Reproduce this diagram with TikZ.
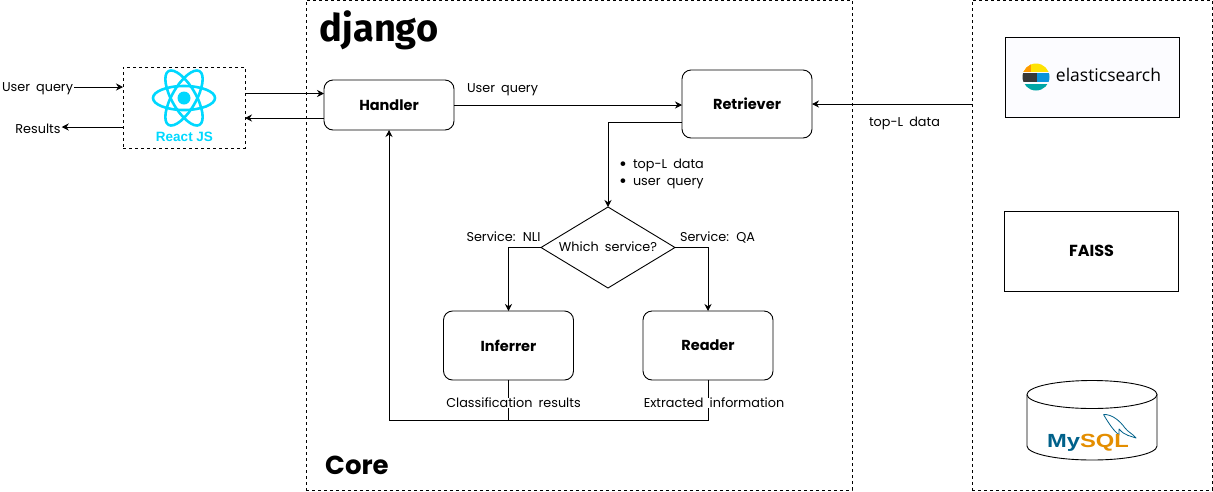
\documentclass[tikz,border=0pt]{standalone}
\usepackage{fontspec}
\setmainfont[WordSpace=1.8]{Poppins}
\newfontfamily\logofont{Liberation Sans}
\newfontfamily\elasticfont{Open Sans}
\newfontfamily\djangofont{Fira Sans}
\usetikzlibrary{arrows.meta,shapes.geometric}
\definecolor{reactcolor}{HTML}{00D8FF}
\definecolor{mysqlblue}{HTML}{00618A}
\definecolor{mysqlorange}{HTML}{E48E00}
\newcommand{\reactlogo}
{   \foreach \a in {0,60,120}
      \draw[reactcolor,line width=2.6pt,rotate around={\a:(184,98)}] (184,98) ellipse (31 and 12);
    \fill[reactcolor] (184,98) circle (6.5);
}
\newcommand{\elasticlogo}
{   \begin{scope}
      \clip (1036,77) circle (13.5);
      \fill[yellow!85!orange] (1022,62) rectangle (1052,71.5);
      \fill[orange!80!yellow] (1022,62) rectangle (1031,71.5);
      \fill[black!78] (1022,73) rectangle (1037,82);
      \fill[cyan!80!blue] (1037,73) rectangle (1052,82);
      \fill[teal!70!cyan] (1022,83.5) rectangle (1052,92);
    \end{scope}
}
\newcommand{\mysqldrum}
{   \draw[line width=0.9pt] (1027,394.5) -- (1027,446) arc (180:0:65 and 14) -- (1157,394.5);
    \draw[line width=0.9pt] (1092,394.5) ellipse (65 and 14);
}
\newcommand{\dolphin}
{   \draw[mysqlblue,line width=0.8pt,line join=round] (1103.5,414.5) .. controls (1112,414) and (1120,421) .. (1125,428)
      .. controls (1128,432) and (1133,434) .. (1136,438) .. controls (1131,436) and (1125,436) .. (1119,429)
      -- (1119,435) .. controls (1114,431) and (1109,424) .. (1103.5,414.5);
}
\newcommand{\bigdot}{\raisebox{-1.5pt}{\fontsize{19}{18}\selectfont\textbullet}}
\tikzset{
  frame/.style={draw,dashed,line width=0.9pt,dash pattern=on 3pt off 3pt,minimum width=#1,minimum height=490pt,inner sep=0pt,outer sep=0pt},
  roundbox/.style={draw,rounded corners=9pt,line width=0.9pt,inner sep=0pt,outer sep=0pt,minimum width=130pt,font=\fontsize{14.5}{16}\selectfont\bfseries},
  plainbox/.style={draw,line width=0.9pt,inner sep=0pt,outer sep=0pt,minimum width=174pt,minimum height=80pt},
  caption/.style={font=\fontsize{12.8}{18}\selectfont,inner sep=1pt},
  arrow/.style={-{Stealth[length=7pt,width=7pt]},line width=0.8pt}
}
\begin{document}
\begin{tikzpicture}[x=1pt,y=-1pt]
 \useasboundingbox (0,0) rectangle (1213,491);

 \node[frame=546pt] (core) at (579,245) {};
 \node[frame=240pt] (storage) at (1092,245) {};

 \node[draw,dashed,line width=0.7pt,inner sep=0pt,outer sep=0pt,minimum width=122pt,minimum height=81pt] (react) at (184,107.5) {};
 \reactlogo
 \node[text=reactcolor,font=\logofont\bfseries\fontsize{13.5}{15}\selectfont,inner sep=0pt] (reacttext) at (184.5,137) {React JS};

 \node[font=\djangofont\bfseries\fontsize{38}{40}\selectfont,inner sep=0pt] (django) at (379,30.5) {django};
 \node[font=\bfseries\fontsize{26}{28}\selectfont,inner sep=0pt] (coretext) at (357,465) {Core};

 \node[roundbox,minimum height=50pt] (handler) at (389,105) {\raisebox{-1.5pt}{Handler}};
 \node[roundbox,minimum height=68pt] (retriever) at (747,104) {\raisebox{-1.5pt}{Retriever}};
 \node[roundbox,minimum height=69pt] (inferrer) at (508.5,345.5) {\raisebox{-1.5pt}{Inferrer}};
 \node[roundbox,minimum height=69pt] (reader) at (708,345.5) {\raisebox{-1.5pt}{Reader}};
 \node[draw,diamond,line width=0.9pt,inner sep=0pt,outer sep=0pt,aspect=1.65,minimum width=134pt,minimum height=81pt] (which) at (608,247.5) {};
 \node[caption] (whichtext) at (608,247) {Which service?};

 \node[plainbox,fill=blue!1] (elastic) at (1092,77) {};
 \elasticlogo
 \node[font=\elasticfont\fontsize{17.5}{20}\selectfont,inner sep=0pt] (elastictext) at (1108.5,75) {elasticsearch};
 \node[plainbox,font=\bfseries\fontsize{16}{18}\selectfont] (faiss) at (1091.5,251) {\raisebox{-1.5pt}{FAISS}};

 \mysqldrum
 \dolphin
 \node[font=\logofont\bfseries\fontsize{19}{21}\selectfont,inner sep=0pt,xscale=1.25] (mysql) at (1088,443) {\textcolor{mysqlblue}{My}\textcolor{mysqlorange}{SQL}};

 \node[caption] (userquery) at (37.5,88.5) {User query};
 \node[caption] (results) at (38,129) {Results};
 \node[caption] (handlerlabel) at (502.5,90) {User query};
 \node[caption] (toplabel) at (904.5,123) {top-L data};
 \node[caption,align=left,anchor=west] (notes) at (618,174) {\bigdot\hspace{6pt}top-L data\\[-1pt] \bigdot\hspace{6pt}user query};
 \node[caption] (nlilabel) at (503.5,237) {Service: NLI};
 \node[caption] (qalabel) at (717.5,237) {Service: QA};

 \draw[arrow] ([yshift=20.5pt]react.west -| userquery.east) -- ([yshift=20.5pt]react.west);
 \draw[arrow] ([yshift=-19.5pt]react.west) -- ([yshift=-19.5pt]react.west -| results.east);
 \draw[arrow] ([yshift=14pt]react.east) -- ([yshift=11.5pt]handler.west);
 \draw[arrow] ([yshift=-13pt]handler.west) -- ([yshift=-10.5pt]react.east);
 \draw[arrow] (handler.east) -- (handler.east -| retriever.west);
 \draw[arrow] (storage.west |- retriever.east) -- (retriever.east);
 \draw[arrow] ([yshift=-18pt]retriever.west) -| (which.north);
 \draw[arrow] (which.west) -| (inferrer.north);
 \draw[arrow] (which.east) -| (reader.north);

 \coordinate (bus) at (389,420);
 \draw[line width=0.8pt] (inferrer.south) |- (bus);
 \draw[arrow] (reader.south) |- (bus) -- (handler.south);

 \node[caption,fill=white,inner ysep=0pt] (classlabel) at (513.5,403) {Classification results};
 \node[caption,fill=white,inner ysep=0pt] (extractlabel) at (714,403) {Extracted information};

\end{tikzpicture}
\end{document}
